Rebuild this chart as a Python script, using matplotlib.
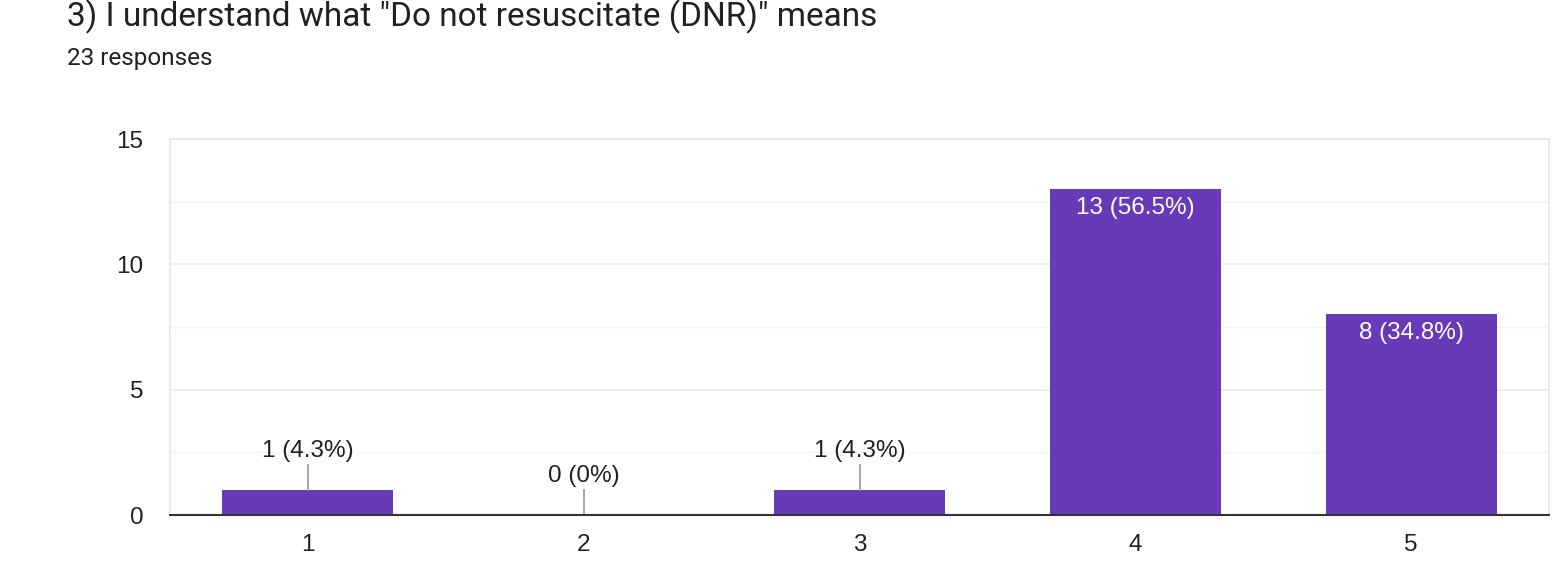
import matplotlib
matplotlib.use("Agg")
import matplotlib.pyplot as plt
from matplotlib.ticker import MultipleLocator

# Survey results
categories = ["1", "2", "3", "4", "5"]
counts = [1, 0, 1, 13, 8]
total = 23
title = '3) I understand what "Do not resuscitate (DNR)" means'
subtitle = "23 responses"

bar_color = "#673ab7"
text_color = "#212121"
label_font = "Liberation Sans"
label_size = 17.5

W, H = 1568, 587
fig = plt.figure(figsize=(W / 100, H / 100), dpi=100)
ax = fig.add_axes([170 / W, 1 - 515 / H, (1549 - 170) / W, (515 - 139) / H])

x = list(range(1, len(categories) + 1))
ax.bar(x, counts, width=0.62, color=bar_color, zorder=3)

ax.set_xlim(0.5, len(categories) + 0.5)
ax.set_ylim(0, 15)
ax.yaxis.set_major_locator(MultipleLocator(5))
ax.yaxis.set_minor_locator(MultipleLocator(2.5))
ax.grid(axis="y", which="major", color="#ebebeb", linewidth=1.2, zorder=0)
ax.grid(axis="y", which="minor", color="#f3f3f3", linewidth=1.0, zorder=0)
ax.set_xticks(x)
ax.set_xticklabels(categories)
ax.tick_params(axis="both", which="both", length=0, labelsize=label_size,
               labelcolor=text_color)
ax.tick_params(axis="y", pad=19)
ax.tick_params(axis="x", pad=14)
for lbl in ax.get_xticklabels() + ax.get_yticklabels():
    lbl.set_fontfamily(label_font)

for side in ("left", "right", "top"):
    ax.spines[side].set_color("#e6e6e6")
    ax.spines[side].set_linewidth(1.2)
ax.spines["bottom"].set_color("#333333")
ax.spines["bottom"].set_linewidth(1.5)
ax.spines["bottom"].set_zorder(4)

# Value labels: inside tall bars, above short ones with a leader line
for xi, c in zip(x, counts):
    pct = 100 * c / total
    pct_txt = f"{pct:.1f}".rstrip("0").rstrip(".")
    txt = f"{c} ({pct_txt}%)"
    if c >= 5:
        ax.text(xi, c - 0.32, txt, ha="center", va="top", color="white",
                fontsize=label_size, family=label_font, zorder=5)
    else:
        ax.plot([xi, xi], [c, c + 1.0], color="#9e9e9e", linewidth=1.3,
                zorder=4, clip_on=False)
        ax.text(xi, c + 1.12, txt, ha="center", va="bottom", color=text_color,
                fontsize=label_size, family=label_font, zorder=5)

fig.text(67 / W, 1 - 17 / H, title, ha="left", va="center", fontsize=24,
         family="Roboto", color=text_color)
fig.text(67 / W, 1 - 58 / H, subtitle, ha="left", va="center", fontsize=17.5,
         family="Roboto", color=text_color)

fig.savefig("out.png", dpi=100, facecolor="white")
